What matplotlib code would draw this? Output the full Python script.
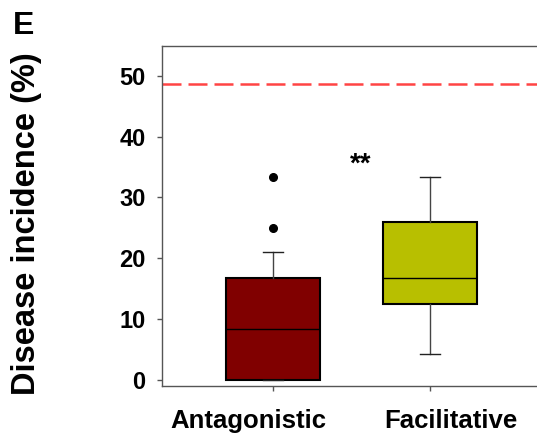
import matplotlib
matplotlib.use('Agg')
import matplotlib.pyplot as plt
from matplotlib.transforms import ScaledTranslation

plt.rcParams['font.family'] = ['Liberation Sans', 'DejaVu Sans']
plt.rcParams['font.weight'] = 'bold'

# box summary values (disease incidence, %)
groups  = ['Antagonistic', 'Facilitative']
medians = [8.3, 16.7]
q1      = [0.0, 12.5]
q3      = [16.7, 26.0]
whis_lo = [0.0, 4.2]
whis_hi = [21.0, 33.3]
fliers  = [[25.0, 33.4], []]
colors  = ['#800000', '#B8BF00']
ref_line = 48.6
signif = '**'

stats = []
for i, g in enumerate(groups):
    stats.append(dict(label=g, med=medians[i], q1=q1[i], q3=q3[i],
                      whislo=whis_lo[i], whishi=whis_hi[i], fliers=fliers[i]))

fig = plt.figure(figsize=(5.37, 4.34), dpi=100)
ax = fig.add_axes([0.3017, 0.1106, 0.7058, 0.7834])

bp = ax.bxp(stats, positions=[1, 2], widths=0.6, patch_artist=True,
            capwidths=0.13,
            boxprops=dict(edgecolor='black', linewidth=1.5),
            medianprops=dict(color='black', linewidth=1.0),
            whiskerprops=dict(color='#444444', linewidth=1.0),
            capprops=dict(color='#222222', linewidth=1.0),
            flierprops=dict(marker='o', markerfacecolor='black',
                            markeredgecolor='black', markersize=5.5))
for patch, c in zip(bp['boxes'], colors):
    patch.set_facecolor(c)

ax.axhline(ref_line, color='#FF4444', linewidth=1.8, linestyle=(0, (7.6, 2.8)))
ax.text(1.56, 37.6, signif, fontsize=20, fontweight='bold', ha='center', va='top')

ax.set_xlim(0.296, 2.704)
ax.set_ylim(-1.0, 54.9)
ax.set_yticks([0, 10, 20, 30, 40, 50])
ax.set_xticks([1, 2])
ax.set_xticklabels(groups)

for s in ax.spines.values():
    s.set_color('#555555')
    s.set_linewidth(1.0)
ax.tick_params(axis='both', direction='out', length=3.8, width=1.0, color='#555555')
ax.tick_params(axis='y', labelsize=17, pad=8)
ax.tick_params(axis='x', labelsize=18.5, pad=13)

# category labels sit a little wider apart than their ticks
for lab, dx in zip(ax.get_xticklabels(), [-0.245, 0.205]):
    lab.set_transform(lab.get_transform() + ScaledTranslation(dx, 0, fig.dpi_scale_trans))

ax.set_ylabel('Disease incidence (%)', fontsize=23.5, fontweight='bold')
ax.yaxis.set_label_coords(-0.317, 0.479)
fig.text(0.024, 0.975, 'E', fontsize=23, fontweight='bold', ha='left', va='top')

fig.savefig('out.png', dpi=100)
